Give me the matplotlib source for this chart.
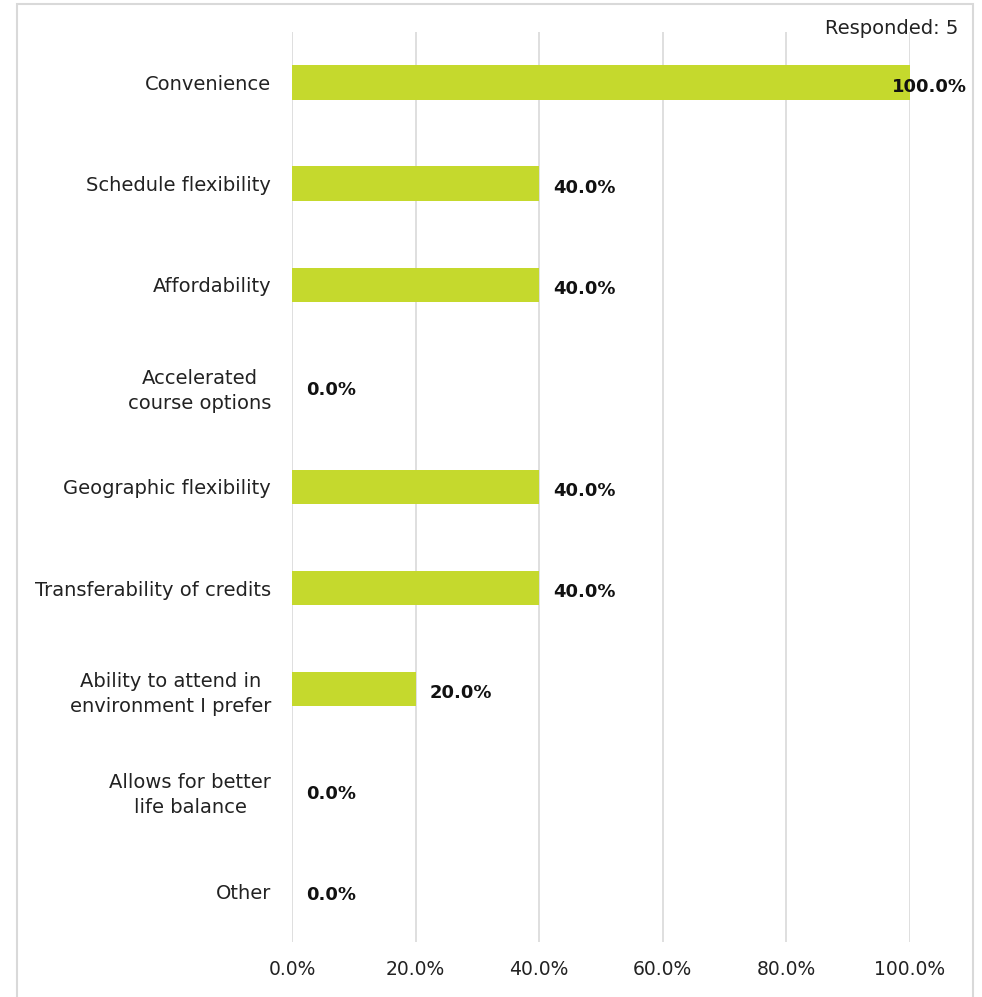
import matplotlib.pyplot as plt
from matplotlib.patches import Rectangle

categories = ['Convenience', 'Schedule flexibility', 'Affordability',
              'Accelerated\ncourse options', 'Geographic flexibility',
              'Transferability of credits', 'Ability to attend in\nenvironment I prefer',
              'Allows for better\nlife balance', 'Other']
values = [100.0, 40.0, 40.0, 0.0, 40.0, 40.0, 20.0, 0.0, 0.0]
xticks = [0, 20, 40, 60, 80, 100]
responded = 5

bar_color = '#C5D92D'
grid_color = '#D9D9D9'
plt.rcParams['font.family'] = ['DejaVu Sans']

fig = plt.figure(figsize=(9.82, 9.97), dpi=100)
ax = fig.add_axes([292/982, 1 - 942/997, 618/982, 910/997])

y = list(range(len(categories)))
ax.barh(y, values, height=0.34, color=bar_color, zorder=2)

ax.set_xlim(0, 100)
ax.set_ylim(len(categories) - 0.5, -0.5)
ax.set_xticks(xticks)
ax.set_xticklabels([f'{t:.1f}%' for t in xticks], fontsize=13.5, color='#222222')
ax.set_yticks(y)
ax.set_yticklabels(categories, fontsize=14, color='#222222', multialignment='center',
                   linespacing=1.4)
ax.tick_params(length=0)
ax.tick_params(axis='y', pad=15)
ax.tick_params(axis='x', pad=13)
ax.xaxis.grid(True, color=grid_color, linewidth=1.2, zorder=0)
for s in ax.spines.values():
    s.set_visible(False)

for yi, v in zip(y, values):
    x = v + 2.3
    ha = 'left'
    if v > 90:
        x = 100 + 9.2
        ha = 'right'
    ax.text(x, yi + 0.04, f'{v:.1f}%', ha=ha, va='center', fontsize=13,
            fontweight='bold', color='#111111', zorder=3, clip_on=False)

fig.text(958/982, 1 - 28/997, f'Responded: {responded}', ha='right', va='center',
         fontsize=14, color='#222222')

fig.patches.append(Rectangle((17/982, -0.05), (973 - 17)/982, 1.05 - 4/997,
                             transform=fig.transFigure, fill=False,
                             edgecolor='#D9D9D9', linewidth=1.5))

fig.savefig('out.png', dpi=100)
